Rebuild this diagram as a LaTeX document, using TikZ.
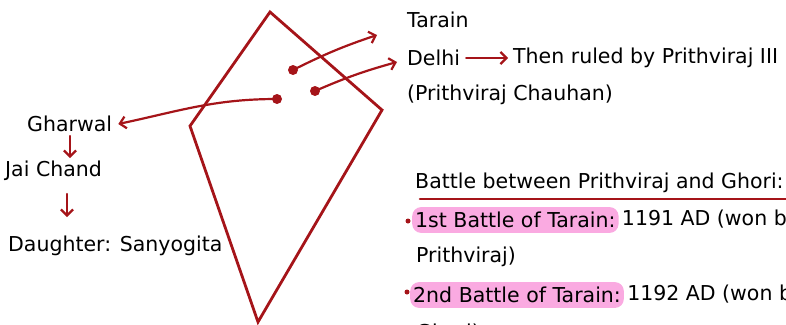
\documentclass[tikz,border=0pt]{standalone}
\usepackage{fontspec}
\setmainfont{DejaVu Sans}
\usetikzlibrary{arrows.meta}
\definecolor{kred}{RGB}{165,20,25}
\definecolor{hpink}{RGB}{250,170,225}
\begin{document}
\begin{tikzpicture}[x=1pt,y=-1pt,
  txt/.style={anchor=west,inner sep=0pt,font=\fontsize{20.5}{24}\selectfont},
  arr/.style={draw=kred,line width=2.2pt,line cap=round,-{Straight Barb[length=6pt,width=12pt,line width=2.2pt]}},
  dotc/.style={circle,fill=kred,inner sep=0pt,minimum size=10pt},
  bullet/.style={circle,fill=kred,inner sep=0pt,minimum size=5pt},
  hl/.style={txt,fill=hpink,rounded corners=9pt,inner xsep=3pt,inner ysep=5pt}]
\useasboundingbox (0,0) rectangle (786,324);
\clip (0,0) rectangle (786,324);
% kite
\coordinate (kt) at (270,12);
\coordinate (kr) at (382,110);
\coordinate (kb) at (258,322);
\coordinate (kl) at (190,126);
\draw[kred,line width=2.8pt,line join=miter] (kt) -- (kr) -- (kb) -- (kl) -- cycle;
% dots
\node[dotc] (d1) at (293,70) {};
\node[dotc] (d2) at (315,91) {};
\node[dotc] (d3) at (277,99) {};
% left texts
\node[txt] (gharwal) at (27,124) {Gharwal};
\node[txt] (jai) at (5,171) {Jai Chand};
\node[txt] (daughter) at (8,246) {Daughter: Sanyogita};
% right texts
\node[txt] (tarain) at (407,20) {Tarain};
\node[txt] (delhi) at (407,58) {Delhi};
\node[txt] (ruled) at (513,58) {Then ruled by Prithviraj III};
\node[txt] (chauhan) at (407,95) {(Prithviraj Chauhan)};
% connectors
\coordinate (e1) at (377,35);
\coordinate (e2) at (397,62);
\draw[arr] (d1.center) to[bend left=4] (e1);
\draw[arr] (d2.center) to[bend left=4] (e2);
\draw[arr] (d3.center) to[out=180,in=12] ([xshift=6pt]gharwal.east);
\coordinate (g1) at (70,136);
\coordinate (g2) at (70,158);
\coordinate (g3) at (67,194);
\coordinate (g4) at (67,217);
\draw[arr] (g1) -- (g2);
\draw[arr] (g3) -- (g4);
\draw[arr] ([xshift=6pt]delhi.east) -- ([xshift=-5pt]ruled.west);
% battle section
\node[txt] (battle) at (415,183) {Battle between Prithviraj and Ghori:};
\draw[kred,line width=2.6pt,line cap=round] ([xshift=5pt,yshift=-6pt]battle.south west) -- ([xshift=4pt,yshift=-6pt]battle.south east);
\node[bullet] (b1) at (408,221) {};
\node[hl] (bt1) at (412,220) {1st Battle of Tarain:};
\node[txt] (y1) at ([xshift=3pt]bt1.east) {1191 AD (won by};
\node[txt] (pr) at (416,257) {Prithviraj)};
\node[bullet] (b2) at (407,292) {};
\node[hl] (bt2) at (410,295) {2nd Battle of Tarain:};
\node[txt] (y2) at ([xshift=3pt]bt2.east) {1192 AD (won by};
\node[txt] (gh) at (416,333) {Ghori)};
\end{tikzpicture}
\end{document}
